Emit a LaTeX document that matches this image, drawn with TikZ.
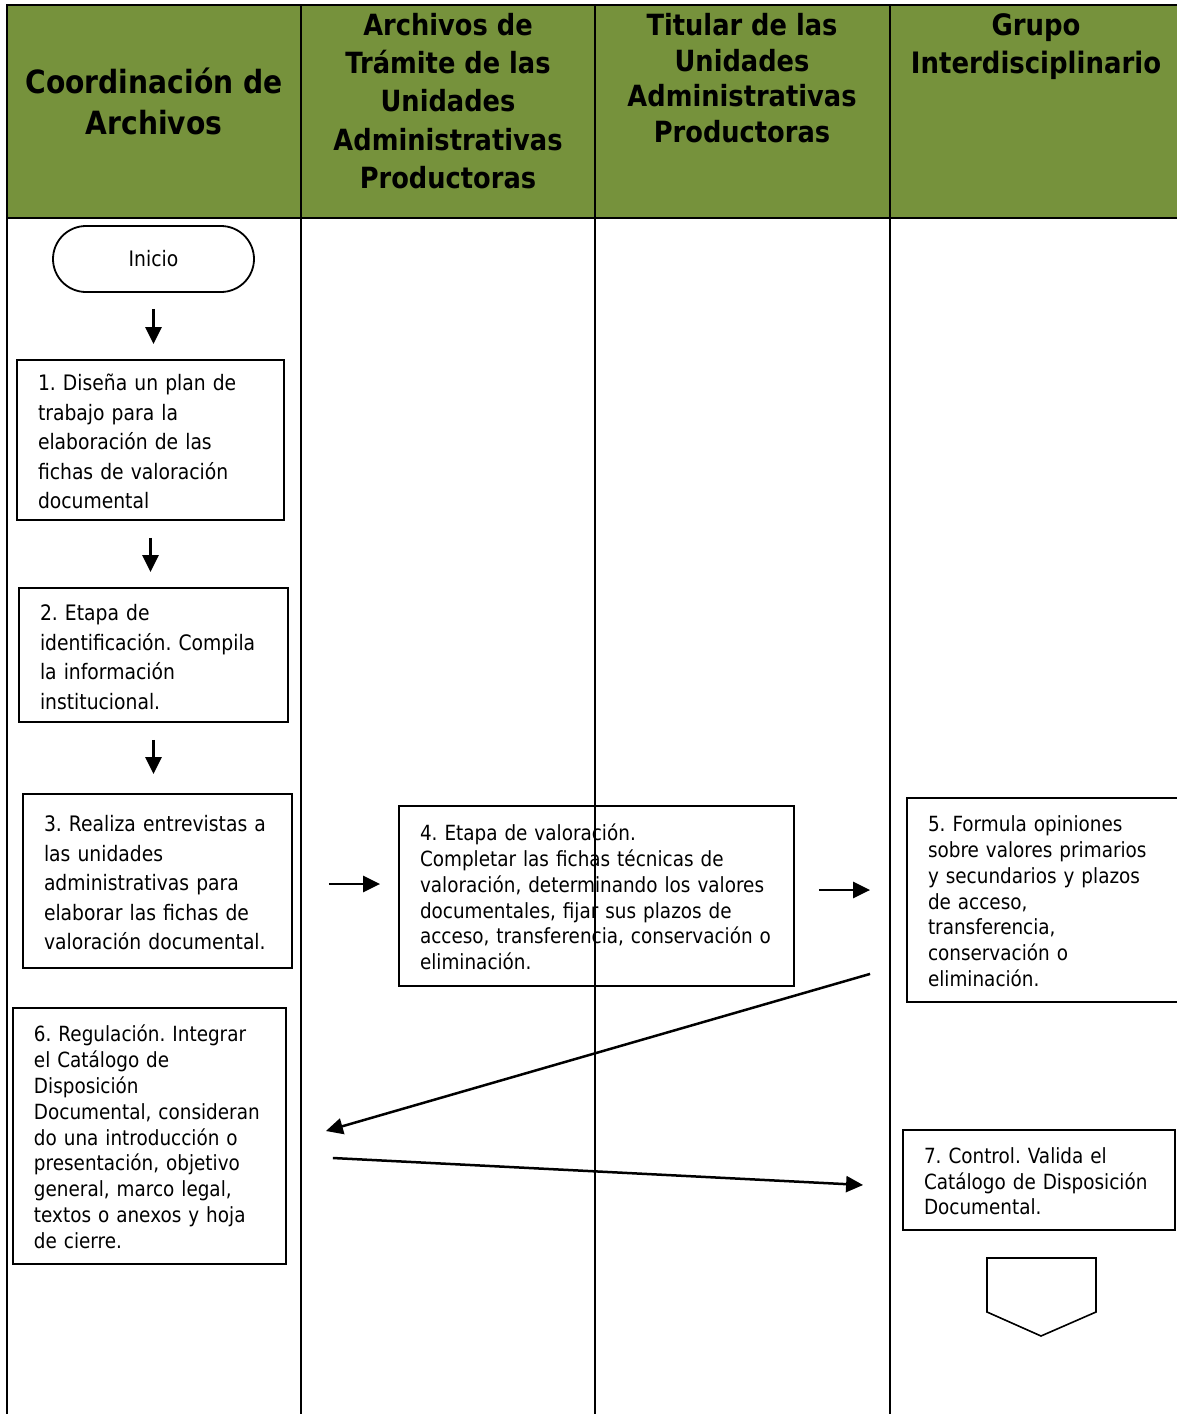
\documentclass[tikz,border=0pt]{standalone}
\usepackage{fontspec}
\setmainfont{DejaVu Sans}[FakeStretch=0.88]
\usepackage{tikz}
\usetikzlibrary{arrows.meta, calc, positioning}

\definecolor{hdrgreen}{RGB}{118,146,60}
\frenchspacing
% texto de cada paso, una fila por renglon
\newcommand{\renglones}[1]{\noindent\raisebox{-4pt}[\height][\depth]{\begin{tabular}{@{}l@{}}#1\end{tabular}}}

\begin{document}
\begin{tikzpicture}[
    x=1pt, y=-1pt,
    lane/.style={black, line width=2.4pt},
    hdr/.style={align=center, inner sep=0pt},
    stepbox/.style={draw, line width=1.8pt, fill=white, inner xsep=21pt, inner ysep=0pt, align=left},
    bigtext/.style={font=\fontsize{21.3}{29.5}\selectfont},
    smalltext/.style={font=\fontsize{20.9}{25.8}\selectfont},
    flow/.style={line width=2.5pt, -{Triangle[length=17pt,width=16pt]}}
]
\useasboundingbox (0,0) rectangle (1176,1414);

% Encabezado de los carriles
\fill[hdrgreen] (7,5) rectangle (1180,218);
\node[hdr, font=\bfseries\fontsize{32}{41}\selectfont] (h1) at (154,101)
    {Coordinación de\\Archivos};
\node[hdr, font=\bfseries\fontsize{29.2}{38.3}\selectfont] (h2) at (448,101)
    {Archivos de\\Trámite de las\\Unidades\\Administrativas\\Productoras};
\node[hdr, font=\bfseries\fontsize{29.2}{35.5}\selectfont] (h3) at (742,78)
    {Titular de las\\Unidades\\Administrativas\\Productoras};
\node[hdr, font=\bfseries\fontsize{29.5}{38}\selectfont] (h4) at (1036,47)
    {Grupo\\Interdisciplinario};

% Pasos
\node[draw, line width=1.8pt, rounded corners=33pt, minimum width=201pt, minimum height=66pt,
      font=\fontsize{21.3}{29.5}\selectfont] (inicio) at (153.5,259) {Inicio};
\node[stepbox, bigtext, text width=225pt, minimum height=160pt] (b1) at (150.5,440)
    {\renglones{1. Diseña un plan de\\trabajo para la\\elaboración de las\\fichas de valoración\\documental}};
\node[stepbox, bigtext, text width=227pt, minimum height=134pt] (b2) at (153.5,655)
    {\renglones{2. Etapa de\\identificación. Compila\\la información\\institucional.}};
\node[stepbox, bigtext, text width=227pt, minimum height=174pt] (b3) at (157.5,881)
    {\renglones{3. Realiza entrevistas a\\las unidades\\administrativas para\\elaborar las fichas de\\valoración documental.}};
\node[stepbox, smalltext, text width=353pt, minimum height=180pt] (b4) at (596.5,896)
    {\renglones{4. Etapa de valoración.\\Completar las fichas técnicas de\\valoración, determinando los valores\\documentales, fijar sus plazos de\\acceso, transferencia, conservación o\\eliminación.}};
\node[stepbox, smalltext, text width=230pt, minimum height=204pt] (b5) at (1043,900)
    {\renglones{5. Formula opiniones\\sobre valores primarios\\y secundarios y plazos\\de acceso,\\transferencia,\\conservación o\\eliminación.}};
\node[stepbox, smalltext, text width=231pt, minimum height=256pt] (b6) at (149.5,1136)
    {\renglones{6. Regulación. Integrar\\el Catálogo de\\Disposición\\Documental, consideran\\do una introducción o\\presentación, objetivo\\general, marco legal,\\textos o anexos y hoja\\de cierre.}};
\node[stepbox, smalltext, text width=230pt, minimum height=100pt] (b7) at (1039,1180)
    {\renglones{7. Control. Valida el\\Catálogo de Disposición\\Documental.}};

% Conector fuera de pagina
\draw[line width=1.6pt, fill=white] (987,1258) -- (1096,1258) -- (1096,1312)
    -- (1041,1336) -- (987,1312) -- cycle;

% Lineas de los carriles (encima de las cajas)
\draw[lane] (7,5) -- (1180,5);
\draw[lane] (7,218) -- (1180,218);
\foreach \x in {7,301,595,890} {
    \draw[lane] (\x,4) -- (\x,1420);
}

% Flechas
\draw[flow, shorten <=16pt, shorten >=15pt] (inicio.south) -- (inicio.south |- b1.north);
\draw[flow, shorten <=17pt, shorten >=15pt] (b1.south) -- (b1.south |- b2.north);
\draw[flow, shorten <=17pt, shorten >=19pt] (b2.south) -- (b2.south |- b3.north);
\draw[flow, shorten <=36pt, shorten >=18pt] ([yshift=-3pt]b3.east) -- ([yshift=-3pt]b3.east -| b4.west);
\draw[flow, shorten <=24pt, shorten >=36pt] ([yshift=6pt]b4.east) -- ([yshift=6pt]b4.east -| b5.west);
\coordinate (s5) at ($(b5.south west)+(-36,-29)$);
\coordinate (e6) at ($(b6.east)+(39,-5)$);
\draw[flow] (s5) -- (e6);
\coordinate (s6) at ($(b6.east)+(46,22)$);
\coordinate (e7) at ($(b7.west)+(-39,5)$);
\draw[flow] (s6) -- (e7);

\end{tikzpicture}
\end{document}
